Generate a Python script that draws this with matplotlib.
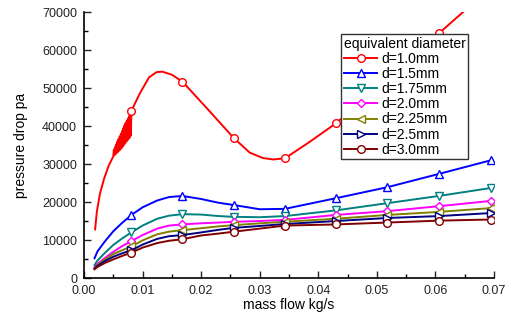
import numpy as np
import matplotlib.pyplot as plt
from matplotlib.ticker import MultipleLocator

plt.rcParams['font.family'] = ['Liberation Sans', 'DejaVu Sans']

# mass flow (kg/s) where the lines are drawn, markers sit on indices below
x_line = [0.0018, 0.0023, 0.0035, 0.0050, 0.0065, 0.0081, 0.0100, 0.0125, 0.0145,
          0.0168, 0.0200, 0.0230, 0.0256, 0.0300, 0.0343, 0.0430, 0.0518, 0.0606, 0.0695]
marker_idx = [5, 9, 12, 14, 15, 16, 17, 18]

d15 = [5200, 7000, 9500, 12300, 14500, 16600, 18600, 20400, 21300,
       21600, 20800, 19800, 19200, 18100, 18200, 21000, 23900, 27400, 31000]
d175 = [3400, 4600, 6500, 8700, 10400, 12000, 13800, 15600, 16400,
        16800, 16700, 16300, 16100, 16000, 16300, 17800, 19700, 21600, 23700]
d20 = [2800, 3700, 5200, 6900, 8400, 9700, 11300, 13000, 13800,
       14100, 14400, 14600, 14800, 15000, 15300, 16600, 17600, 18900, 20300]
d225 = [2600, 3400, 4800, 6300, 7300, 8300, 9900, 11500, 12200,
        12600, 13100, 13600, 13900, 14400, 14800, 15600, 16600, 17400, 18400]
d25 = [2500, 3200, 4400, 5600, 6500, 7300, 8800, 10300, 11000,
       11300, 12000, 12700, 13200, 13700, 14200, 15000, 15800, 16300, 17100]
d30 = [2300, 2900, 3900, 4900, 5800, 6700, 8000, 9200, 9800,
       10200, 11200, 11700, 12200, 13000, 13800, 14100, 14600, 15100, 15400]

# d=1.0mm has its own points (peak, dip and the noisy start)
red_x = [0.0019, 0.0022, 0.0027, 0.0034, 0.0042, 0.0050,
         0.0051, 0.0052, 0.0053, 0.0054, 0.0055, 0.0056, 0.0057, 0.0058, 0.0059, 0.0060,
         0.0061, 0.0062, 0.0063, 0.0064, 0.0065, 0.0066, 0.0067, 0.0068, 0.0069, 0.0070,
         0.0071, 0.0072, 0.0073, 0.0074, 0.0075, 0.0076, 0.0077, 0.0078, 0.0079, 0.0080,
         0.0081, 0.0095, 0.0111, 0.0124, 0.0134, 0.0150, 0.0168, 0.0212,
         0.0256, 0.0283, 0.0305, 0.0323, 0.0343, 0.0385, 0.0430, 0.0518,
         0.0606, 0.0695]
red_y = [12800, 17500, 22000, 26000, 29500, 32000,
         33800, 32300, 34500, 32600, 35200, 32900, 35900, 33200, 36600, 33500,
         37300, 33800, 38000, 34200, 38700, 34600, 39400, 35000, 40100, 35400,
         40800, 35800, 41400, 36200, 42000, 36600, 42600, 37000, 43000, 37500,
         44000, 48500, 52800, 54200, 54300, 53500, 51700, 44300,
         36800, 33000, 31600, 31200, 31500, 35800, 40700, 52500,
         64400, 76500]
red_mark_x = [0.0081, 0.0168, 0.0256, 0.0343, 0.0430, 0.0518, 0.0606, 0.0695]

labels = ['d=1.0mm', 'd=1.5mm', 'd=1.75mm', 'd=2.0mm', 'd=2.25mm', 'd=2.5mm', 'd=3.0mm']
colors = ['#ff0000', '#0000ff', '#008080', '#ff00ff', '#808000', '#000080', '#800000']
markers = ['o', '^', 'v', 'D', '<', '>', 'o']

fig = plt.figure(figsize=(5.14, 3.22), dpi=100)
ax = fig.add_axes([0.1634, 0.1366, 0.7977, 0.826])

series = [d15, d175, d20, d225, d25, d30]
red_idx = [red_x.index(v) for v in red_mark_x]
ax.plot(red_x, red_y, color=colors[0], lw=1.4, marker=markers[0], ms=5.5,
        mfc='white', mec=colors[0], mew=1.0, markevery=red_idx, label=labels[0])
for i, ys in enumerate(series):
    ms = 4.5 if markers[i + 1] == 'D' else 5.5
    ax.plot(x_line, ys, color=colors[i + 1], lw=1.4, marker=markers[i + 1], ms=ms,
            mfc='white', mec=colors[i + 1], mew=1.0, markevery=marker_idx,
            label=labels[i + 1])

ax.set_xlim(0, 0.07)
ax.set_ylim(0, 70000)
ax.xaxis.set_major_locator(MultipleLocator(0.01))
ax.xaxis.set_minor_locator(MultipleLocator(0.005))
ax.yaxis.set_major_locator(MultipleLocator(10000))
ax.yaxis.set_minor_locator(MultipleLocator(5000))
ax.xaxis.set_major_formatter(plt.FuncFormatter(lambda v, p: '%.2f' % v))

for s in ['top', 'right']:
    ax.spines[s].set_visible(False)
for s in ['left', 'bottom']:
    ax.spines[s].set_linewidth(1.2)
ax.tick_params(which='major', direction='in', length=5, width=1.0, labelsize=9, colors='#222222')
ax.tick_params(axis='x', which='major', pad=5)
ax.tick_params(axis='y', which='major', pad=5)
ax.tick_params(which='minor', direction='in', length=3, width=1.0)

ax.set_xlabel('mass flow kg/s', fontsize=10, labelpad=1)
ax.set_ylabel('pressure drop pa', fontsize=10, labelpad=10)

leg = ax.legend(title='equivalent diameter', loc='upper left', bbox_to_anchor=(0.627, 0.917),
                borderaxespad=0, fontsize=10, title_fontsize=10, fancybox=False,
                edgecolor='#333333', framealpha=1, handlelength=2.4, handletextpad=0.3,
                labelspacing=0.08, borderpad=0.2, alignment='left')
leg.get_frame().set_linewidth(1.0)

fig.savefig('out.png', dpi=100)
